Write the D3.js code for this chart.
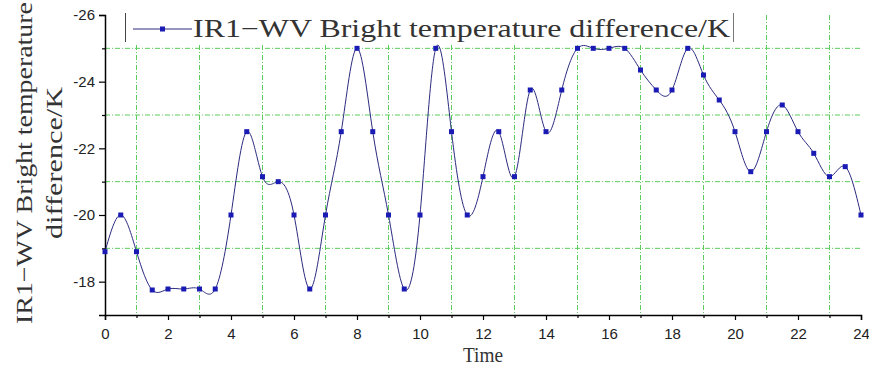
<!DOCTYPE html>
<html>
<head>
<meta charset="utf-8">
<script src="https://cdn.jsdelivr.net/npm/d3@7"></script>
<style>
  body { margin: 0; background: #fff; }
  svg { display: block; }
</style>
</head>
<body>
<div id="chart"></div>
<script>
// hours, every half hour
const times = d3.range(0, 24.01, 0.5);
// IR1-WV bright temperature difference (K)
const values = [
  -18.9, -20.0, -18.9, -17.75, -17.78, -17.78, -17.78, -17.78,
  -20.0, -22.5, -21.15, -21.0, -20.0, -17.78, -20.0, -22.5,
  -25.0, -22.5, -20.0, -17.78, -20.0, -25.0, -22.5, -20.0,
  -21.15, -22.5, -21.15, -23.75, -22.5, -23.75, -25.0, -25.0,
  -25.0, -25.0, -24.35, -23.75, -23.75, -25.0, -24.2, -23.45,
  -22.5, -21.3, -22.5, -23.3, -22.5, -21.85, -21.15, -21.45, -20.0
];
const xTicks = d3.range(0, 25, 2);
const xMinor = d3.range(1, 24, 2);
const yTicks = [-26, -24, -22, -20, -18];
const yMinor = [-25, -23, -21, -19];
const seriesName = "IR1\u2212WV Bright temperature difference/K";

const data = times.map((t, i) => ({ t: t, v: values[i] }));

const W = 869, H = 367;
const margin = { top: 15, right: 8, bottom: 52, left: 105 };
const width = W - margin.left - margin.right;
const height = H - margin.top - margin.bottom;

const svg = d3.select("#chart").append("svg")
  .attr("width", W)
  .attr("height", H);

const g = svg.append("g")
  .attr("transform", "translate(" + margin.left + "," + margin.top + ")");

const x = d3.scaleLinear().domain([0, 24]).range([0, width]);
const y = d3.scaleLinear().domain([-26, -17]).range([0, height]);

// green dash-dot grid at odd values
const gridColor = "#5ccc5c";
g.append("g").selectAll("line.gx")
  .data(xMinor).enter().append("line")
  .attr("x1", d => x(d)).attr("x2", d => x(d))
  .attr("y1", 0).attr("y2", height)
  .attr("stroke", gridColor).attr("stroke-width", 1)
  .attr("stroke-dasharray", "5,2,1,2");
g.append("g").selectAll("line.gy")
  .data(yMinor).enter().append("line")
  .attr("x1", 0).attr("x2", width)
  .attr("y1", d => y(d)).attr("y2", d => y(d))
  .attr("stroke", gridColor).attr("stroke-width", 1)
  .attr("stroke-dasharray", "5,2,1,2");

// axes (plain hyphen for negatives, like the original)
const fmt = d => String(d);
const xAxis = g.append("g")
  .attr("transform", "translate(0," + height + ")")
  .call(d3.axisBottom(x).tickValues(xTicks).tickSize(5).tickFormat(fmt));
g.append("g")
  .attr("transform", "translate(0," + height + ")")
  .call(d3.axisBottom(x).tickValues(xMinor).tickSize(3).tickFormat(""))
  .call(a => a.select(".domain").remove());

const yAxis = g.append("g")
  .call(d3.axisLeft(y).tickValues(yTicks).tickSize(6).tickFormat(fmt));
g.append("g")
  .call(d3.axisLeft(y).tickValues(yMinor).tickSize(3).tickFormat(""))
  .call(a => a.select(".domain").remove());

svg.selectAll(".domain").attr("stroke", "#000").attr("stroke-width", 1.5);
svg.selectAll(".tick line").attr("stroke", "#000").attr("stroke-width", 1.2);
svg.selectAll(".tick text")
  .attr("font-family", "Liberation Sans, Arial, sans-serif")
  .attr("font-size", 15)
  .attr("fill", "#222");
xAxis.selectAll(".tick text").attr("dy", "1.05em");
yAxis.selectAll(".tick text").attr("x", -10);

// series
const line = d3.line()
  .x(d => x(d.t))
  .y(d => y(d.v))
  .curve(d3.curveNatural);

g.append("path")
  .datum(data)
  .attr("fill", "none")
  .attr("stroke", "#2b2b80")
  .attr("stroke-width", 1)
  .attr("d", line);

g.append("g").selectAll("rect")
  .data(data).enter().append("rect")
  .attr("x", d => x(d.t) - 2.5)
  .attr("y", d => y(d.v) - 2.5)
  .attr("width", 5).attr("height", 5)
  .attr("fill", "#1a1ab4");

// legend
const leg = svg.append("g");
leg.append("rect")
  .attr("x", 125).attr("y", 13).attr("width", 608).attr("height", 31)
  .attr("fill", "#fff");
leg.append("line").attr("x1", 125.5).attr("x2", 125.5).attr("y1", 13).attr("y2", 42)
  .attr("stroke", "#444").attr("stroke-width", 1);
leg.append("line").attr("x1", 733.5).attr("x2", 733.5).attr("y1", 13).attr("y2", 42)
  .attr("stroke", "#777").attr("stroke-width", 1);
leg.append("line").attr("x1", 133).attr("x2", 192).attr("y1", 29).attr("y2", 29)
  .attr("stroke", "#2b2b80").attr("stroke-width", 1);
leg.append("rect").attr("x", 160).attr("y", 26.5).attr("width", 5).attr("height", 5)
  .attr("fill", "#1a1ab4");
leg.append("text")
  .attr("x", 193).attr("y", 37)
  .attr("font-family", "Liberation Serif, serif")
  .attr("font-size", 25)
  .attr("fill", "#333")
  .attr("textLength", 537)
  .attr("lengthAdjust", "spacingAndGlyphs")
  .text(seriesName);

// axis titles
const yTitle = svg.append("g")
  .attr("transform", "translate(0," + (margin.top + height / 2 - 2) + ") rotate(-90)");
yTitle.append("text")
  .attr("x", 0).attr("y", 32)
  .attr("text-anchor", "middle")
  .attr("font-family", "Liberation Serif, serif")
  .attr("font-size", 24)
  .attr("fill", "#333")
  .attr("textLength", 322)
  .attr("lengthAdjust", "spacingAndGlyphs")
  .text("IR1\u2212WV Bright temperature");
yTitle.append("text")
  .attr("x", 0).attr("y", 62)
  .attr("text-anchor", "middle")
  .attr("font-family", "Liberation Serif, serif")
  .attr("font-size", 24)
  .attr("fill", "#333")
  .attr("textLength", 152)
  .attr("lengthAdjust", "spacingAndGlyphs")
  .text("difference/K");

svg.append("text")
  .attr("x", 483).attr("y", 362)
  .attr("text-anchor", "middle")
  .attr("font-family", "Liberation Serif, serif")
  .attr("font-size", 20)
  .attr("fill", "#333")
  .attr("textLength", 40)
  .attr("lengthAdjust", "spacingAndGlyphs")
  .text("Time");
</script>
</body>
</html>
